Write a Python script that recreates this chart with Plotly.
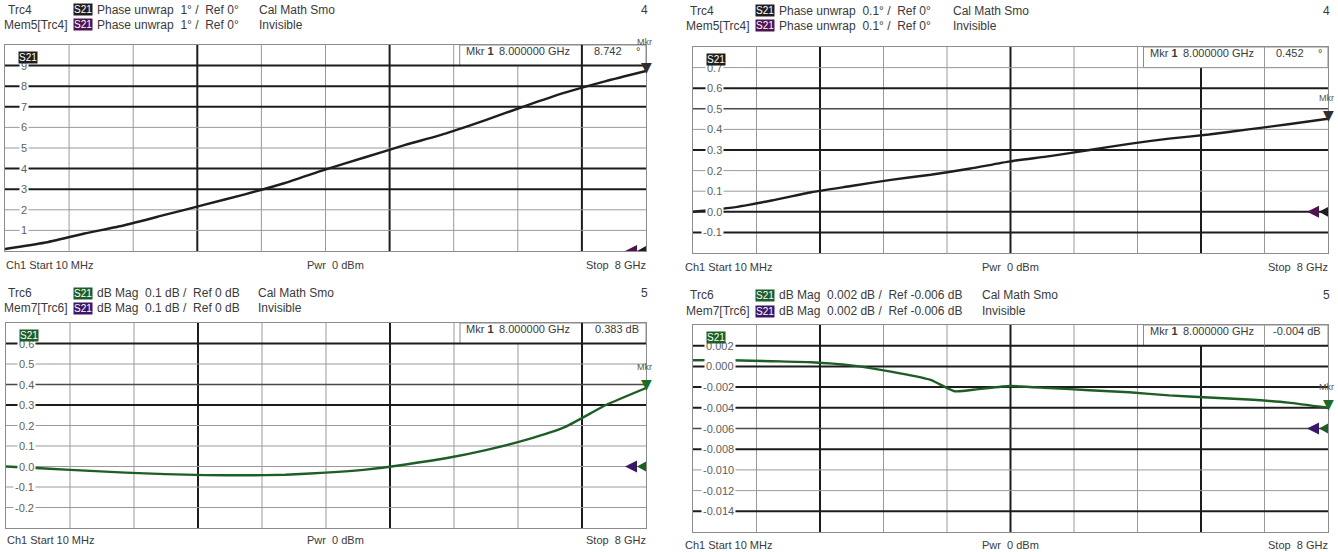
import plotly.graph_objects as go

W, H = 1338, 552
FONT = "Liberation Sans, Arial, sans-serif"
TEXT = "#3a3a3a"
TICK = "#5e5e5e"
FRAME = "#8c8c8c"
GRID_DARK = "#1c1c1c"
GRID_MID = "#4a4a4a"
GRID_LIGHT = "#9a9a9a"
BLACK = "#1e1e1e"
GREEN = "#1d5e27"
PURPLE_A = "#4d1450"
PURPLE_B = "#3b1768"

# Sweep: Ch1 Start 10 MHz, Stop 8 GHz, 10 divisions
F_START, F_STOP = 0.01, 8.0
N_DIV = 10
MKR_FREQ = 8.0

# Frequencies in GHz
FREQ = [0.01, 0.5, 1.0, 1.5, 2.0, 2.5, 3.0, 3.5, 4.0, 4.5, 5.0, 5.5, 6.0, 6.5, 7.0, 7.5, 8.0]
FREQ_TRC6 = [0.01, 0.5, 1.0, 1.5, 2.0, 2.5, 3.0, 3.3, 3.6, 4.0, 4.5, 5.0, 5.5, 6.0, 6.5, 7.0, 7.5, 8.0]

# S21 phase unwrap (deg), 1 deg/div
TRC4_PHASE_1DEG = [0.1, 0.4, 0.85, 1.25, 1.75, 2.25, 2.75, 3.3, 3.95, 4.55, 5.15, 5.7,
                   6.35, 7.05, 7.7, 8.25, 8.742]
# S21 phase unwrap (deg), 0.1 deg/div
TRC4_PHASE_01DEG = [0.0, 0.02, 0.055, 0.095, 0.125, 0.155, 0.18, 0.21, 0.245, 0.27, 0.30,
                    0.33, 0.355, 0.375, 0.40, 0.425, 0.452]
# S21 dB mag, 0.1 dB/div
TRC6_DBMAG_01 = [0.0, -0.01, -0.02, -0.03, -0.037, -0.042, -0.043, -0.04, -0.03, -0.015,
                 0.01, 0.04, 0.08, 0.13, 0.195, 0.30, 0.383]
# S21 dB mag, 0.002 dB/div
TRC6_DBMAG_0002 = [0.0006, 0.0006, 0.0005, 0.0004, 0.0001, -0.0005, -0.0013, -0.0024,
                   -0.0022, -0.0019, -0.0021, -0.0023, -0.0025, -0.0028, -0.0030, -0.0032,
                   -0.0035, -0.004]

PANELS = [
    dict(xa="x", ya="y", box=(5, 45, 646, 251), ref=0.0, scale=1.0, ref_div=0, fmt="{:.0f}",
         freq=FREQ, vals=TRC4_PHASE_1DEG, color=BLACK, mem=PURPLE_A, unit="°",
         dark_h=[3, 4, 7, 8, 9], mid_h=[], dark_v=[3, 6, 9], lab_shift=24, mkr_shift=22,
         trc="Trc4", memname="Mem5[Trc4]", desc="Phase unwrap  1° /  Ref 0°", cal_x=257,
         chan="4", rows=(10, 25), foot=265, col=0),
    dict(xa="x2", ya="y2", box=(693, 47, 1328, 253), ref=0.0, scale=0.1, ref_div=2, fmt="{:.1f}",
         freq=FREQ, vals=TRC4_PHASE_01DEG, color=BLACK, mem=PURPLE_A, unit="°",
         dark_h=[1, 2, 5, 8], mid_h=[7], dark_v=[2, 5, 8], lab_shift=31, mkr_shift=14,
         trc="Trc4", memname="Mem5[Trc4]", desc="Phase unwrap  0.1° /  Ref 0°", cal_x=951,
         chan="4", rows=(11, 26), foot=267, col=1),
    dict(xa="x3", ya="y3", box=(6, 323, 646, 528), ref=0.0, scale=0.1, ref_div=3, fmt="{:.1f}",
         freq=FREQ, vals=TRC6_DBMAG_01, color=GREEN, mem=PURPLE_B, unit="dB",
         dark_h=[6, 9], mid_h=[7], dark_v=[3, 6, 9], lab_shift=30, mkr_shift=14,
         trc="Trc6", memname="Mem7[Trc6]", desc="dB Mag  0.1 dB /  Ref 0 dB", cal_x=256,
         chan="5", rows=(293, 308), foot=540, col=0),
    dict(xa="x4", ya="y4", box=(693, 325, 1328, 532), ref=-0.006, scale=0.002, ref_div=5,
         fmt="{:.3f}", freq=FREQ_TRC6, vals=TRC6_DBMAG_0002, color=GREEN, mem=PURPLE_B,
         unit="dB", dark_h=[1, 4, 6, 7, 8, 9], mid_h=[5], dark_v=[2, 5, 8], lab_shift=43,
         mkr_shift=14, trc="Trc6", memname="Mem7[Trc6]",
         desc="dB Mag  0.002 dB /  Ref -0.006 dB", cal_x=980,
         chan="5", rows=(295, 311), foot=545, col=1),
]

fig = go.Figure()
shapes = []
annotations = []


def px(x):
    return x / W


def py(y):
    return 1 - y / H


def text(x, y, s, anchor="left", size=11, color=TEXT, **kw):
    annotations.append(dict(xref="paper", yref="paper", x=px(x), y=py(y), text=s,
                            showarrow=False, xanchor=anchor, yanchor="middle",
                            font=dict(family=FONT, size=size, color=color), **kw))


def badge(xc, yc, bg):
    annotations.append(dict(xref="paper", yref="paper", x=px(xc), y=py(yc), text="S21",
                            showarrow=False, xanchor="center", yanchor="middle",
                            bgcolor=bg, borderpad=0,
                            font=dict(family=FONT, size=10, color="white")))


def grid_style(k, dark, mid):
    if k in dark:
        return dict(color=GRID_DARK, width=2)
    if k in mid:
        return dict(color=GRID_MID, width=1.5)
    return dict(color=GRID_LIGHT, width=1)


layout_axes = {}
for p in PANELS:
    x0, y0, x1, y1 = p["box"]
    ymin = p["ref"] - p["ref_div"] * p["scale"]
    ymax = p["ref"] + (N_DIV - p["ref_div"]) * p["scale"]
    xkey = "xaxis" + p["xa"][1:]
    ykey = "yaxis" + p["ya"][1:]
    axis_common = dict(showgrid=False, zeroline=False, showticklabels=False, ticks="",
                       showline=True, mirror=True, linecolor=FRAME, linewidth=1, fixedrange=True)
    layout_axes[xkey] = dict(domain=[px(x0), px(x1)], range=[F_START, F_STOP],
                             anchor=p["ya"], **axis_common)
    layout_axes[ykey] = dict(domain=[py(y1), py(y0)], range=[ymin, ymax],
                             anchor=p["xa"], **axis_common)

    xdom = p["xa"] + " domain"
    ydom = p["ya"] + " domain"
    step_f = (F_STOP - F_START) / N_DIV

    # vertical grid
    for k in range(1, N_DIV):
        fx = F_START + k * step_f
        shapes.append(dict(type="line", xref=p["xa"], yref=ydom, x0=fx, x1=fx, y0=0, y1=1,
                           layer="below", line=grid_style(k, p["dark_v"], [])))

    # marker readout box along the top edge
    div_px = (y1 - y0) / N_DIV
    box_left = x0 + (x1 - x0) * 7 / N_DIV + 6
    shapes.append(dict(type="rect", xref="paper", yref="paper", x0=px(box_left), x1=px(x1),
                       y0=py(y0 + div_px), y1=py(y0), layer="below", fillcolor="white",
                       line=dict(color=FRAME, width=1)))

    # horizontal grid
    for k in range(1, N_DIV):
        val = ymin + k * p["scale"]
        shapes.append(dict(type="line", xref=xdom, yref=p["ya"], x0=0, x1=1, y0=val, y1=val,
                           layer="below", line=grid_style(k, p["dark_h"], p["mid_h"])))

    # divider inside the readout box
    fx9 = F_START + 9 * step_f
    shapes.append(dict(type="line", xref=p["xa"], yref="paper", x0=fx9, x1=fx9,
                       y0=py(y0 + div_px), y1=py(y0), layer="below",
                       line=grid_style(9, p["dark_v"], [])))

    # reference level arrows (memory + trace)
    for path, col in (("M -21 0 L -9 6 L -9 -6 Z", p["mem"]),
                      ("M -9 0 L 2 6 L 2 -6 Z", p["color"])):
        shapes.append(dict(type="path", xref=p["xa"], yref=p["ya"], xsizemode="pixel",
                           ysizemode="pixel", xanchor=F_STOP, yanchor=p["ref"], path=path,
                           fillcolor=col, line=dict(width=0), layer="above"))

    # trace
    fig.add_trace(go.Scatter(x=p["freq"], y=p["vals"], mode="lines", xaxis=p["xa"],
                             yaxis=p["ya"], line=dict(color=p["color"], width=2.4,
                                                      shape="spline", smoothing=0.5),
                             hoverinfo="skip", showlegend=False))

    # tick labels inside the grid
    for k in range(1, N_DIV):
        val = ymin + k * p["scale"]
        if abs(val) < 1e-12:
            val = 0.0
        annotations.append(dict(xref=xdom, yref=p["ya"], x=0, y=val, xanchor="right",
                                yanchor="middle", xshift=p["lab_shift"], showarrow=False,
                                text=p["fmt"].format(val), bgcolor="white", borderpad=1,
                                font=dict(family=FONT, size=11, color=TICK)))

    # trace badge inside the grid
    badge(x0 + 23, y0 + 12, BLACK if p["color"] == BLACK else GREEN)

    # marker 1
    mkr_val = p["vals"][p["freq"].index(MKR_FREQ)]
    mkr_col = "#2e2e2e" if p["color"] == BLACK else "#1d6b27"
    annotations.append(dict(xref=p["xa"], yref=p["ya"], x=MKR_FREQ, y=mkr_val, text="▼",
                            showarrow=False, xanchor="center", yanchor="bottom", yshift=-6,
                            font=dict(family="DejaVu Sans", size=14, color=mkr_col)))
    annotations.append(dict(xref=p["xa"], yref=p["ya"], x=MKR_FREQ, y=mkr_val, text="Mkr",
                            showarrow=False, xanchor="center", yanchor="bottom",
                            yshift=p["mkr_shift"], xshift=-2,
                            font=dict(family=FONT, size=9, color="#555555")))

    # marker readout text
    ry = y0 + 6
    text(box_left + 4, ry, "Mkr <b>1</b>", size=11)
    text(box_left + 112, ry, f"{MKR_FREQ:.6f} GHz", anchor="right", size=11)
    if p["unit"] == "°":
        text(x1 - 22, ry, f"{mkr_val:.3f}", anchor="right", size=11)
        text(x1 - 4, ry, "°", anchor="right", size=11)
    else:
        text(x1 - 5, ry, f"{mkr_val:.3f} dB", anchor="right", size=11)

    # header lines
    cx = 0 if p["col"] == 0 else 682
    r1, r2 = p["rows"]
    text(cx + 6, r1, p["trc"], size=12)
    badge(cx + 83, r1, BLACK if p["color"] == BLACK else GREEN)
    text(cx + 95, r1, p["desc"], size=12)
    text(p["cal_x"], r1, "Cal Math Smo", size=12)
    text(x1 + 4, r1, p["chan"], anchor="right", size=12)
    text(cx + 2, r2, p["memname"], size=12)
    badge(cx + 83, r2, p["mem"])
    text(cx + 95, r2, p["desc"], size=12)
    text(p["cal_x"], r2, "Invisible", size=12)

    # footer line
    fy = p["foot"]
    text(x0 - 1 if p["col"] == 0 else x0 - 10, fy, "Ch1 Start 10 MHz")
    text(305 if p["col"] == 0 else 980, fy, "Pwr\u00a0\u00a00 dBm")
    text(x1 + 2, fy, "Stop\u00a0\u00a08 GHz", anchor="right")

fig.update_layout(width=W, height=H, margin=dict(l=0, r=0, t=0, b=0),
                  paper_bgcolor="white", plot_bgcolor="white", showlegend=False,
                  shapes=shapes, annotations=annotations, **layout_axes)

fig.write_html("out.html")
